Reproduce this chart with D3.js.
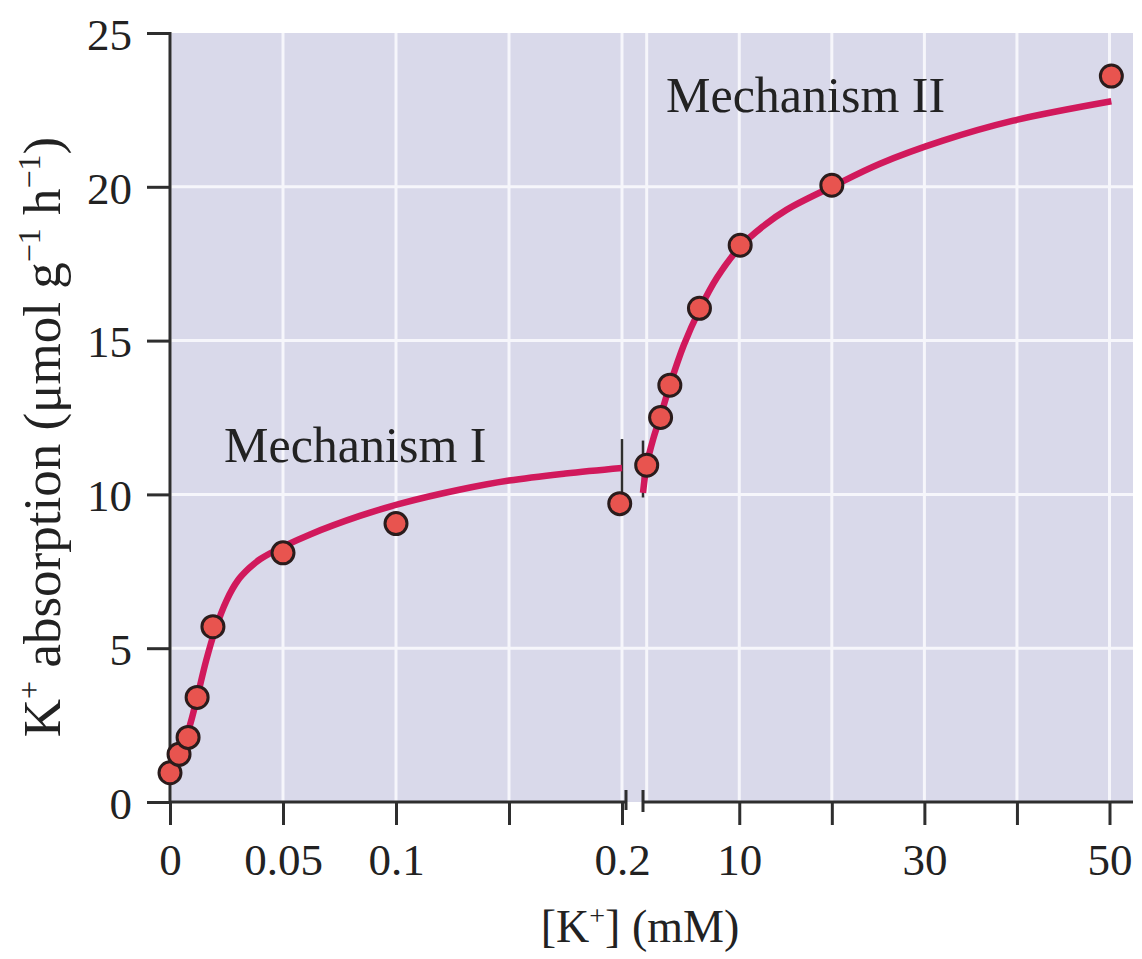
<!DOCTYPE html>
<html>
<head>
<meta charset="utf-8">
<script src="https://cdn.jsdelivr.net/npm/d3@7"></script>
<style>
  html, body { margin: 0; padding: 0; background: #ffffff; }
  svg { display: block; }
  text { font-family: "Liberation Serif", "Times New Roman", serif; fill: #222; }
</style>
</head>
<body>
<svg id="chart" width="1142" height="959"></svg>
<script>
// ---------- data ----------
// Mechanism I (low [K+], 0 – 0.2 mM)
const mech1X = [0, 0.004, 0.008, 0.012, 0.019, 0.05, 0.1, 0.199];
const mech1Y = [0.95, 1.55, 2.1, 3.4, 5.7, 8.1, 9.05, 9.7];
// fitted curve I
const curve1X = [0, 0.004, 0.008, 0.012, 0.016, 0.02, 0.025, 0.03, 0.035, 0.04, 0.05, 0.062, 0.084, 0.102, 0.128, 0.15, 0.175, 0.2];
const curve1Y = [0.9, 1.6, 2.3, 3.4, 4.6, 5.6, 6.55, 7.2, 7.6, 7.9, 8.3, 8.7, 9.3, 9.7, 10.15, 10.45, 10.68, 10.86];
// Mechanism II (high [K+], up to 50 mM)
const mech2X = [0.0, 1.5, 2.5, 5.7, 10.1, 20, 50.2];
const mech2Y = [10.95, 12.5, 13.55, 16.05, 18.1, 20.05, 23.6];
// fitted curve II
const curve2X = [-0.4, 0, 0.7, 1.5, 2.5, 4.0, 5.7, 7.6, 10.1, 12.5, 15.1, 20, 25.2, 32, 39.6, 50.2];
const curve2Y = [10.05, 10.95, 11.8, 12.55, 13.55, 14.85, 16.0, 17.05, 18.05, 18.7, 19.25, 20.0, 20.75, 21.5, 22.15, 22.78];

// ticks
const yTicks = [0, 5, 10, 15, 20, 25];
const xLeftTicks = [0, 0.05, 0.1, 0.15, 0.2];
const xLeftLabels = ["0", "0.05", "0.1", "", "0.2"];
const xRightTicks = [10, 20, 30, 40, 50];
const xRightLabels = ["10", "", "30", "", "50"];
const xRightGrid = [0, 10, 20, 30, 40, 50];
const yGrid = [5, 10, 15, 20];

// ---------- layout ----------
const plotL = 170, plotR = 1133, plotT = 33, plotB = 802;
const svg = d3.select("#chart");

const y = d3.scaleLinear().domain([0, 25]).range([plotB, plotT]);
const xL = d3.scaleLinear().domain([0, 0.2]).range([plotL, 622]);
const xR = d3.scaleLinear().domain([0, 50]).range([646.7, 1109.5]);

const curveColor = "#d1195c";
const axisColor = "#2e2e2e";

// background
svg.append("rect")
  .attr("x", plotL).attr("y", plotT)
  .attr("width", plotR - plotL).attr("height", plotB - plotT)
  .attr("fill", "#d9d9ea");

// grid
const grid = svg.append("g").attr("stroke", "#f6f6fb").attr("stroke-width", 3);
grid.selectAll("line.gl").data(xLeftTicks).join("line")
  .attr("x1", d => xL(d)).attr("x2", d => xL(d))
  .attr("y1", plotT).attr("y2", plotB);
grid.selectAll("line.gr").data(xRightGrid).join("line")
  .attr("class", "gr")
  .attr("x1", d => xR(d)).attr("x2", d => xR(d))
  .attr("y1", plotT).attr("y2", plotB);
grid.selectAll("line.gy").data(yGrid).join("line")
  .attr("class", "gy")
  .attr("x1", plotL).attr("x2", plotR)
  .attr("y1", d => y(d)).attr("y2", d => y(d));

// axes
const fs = 45;
const yAxis = d3.axisLeft(y).tickValues(yTicks).tickSize(23).tickSizeOuter(0);
const gy = svg.append("g").attr("transform", `translate(${plotL},0)`).call(yAxis);
gy.select(".domain").remove();
gy.selectAll(".tick line").attr("stroke", axisColor).attr("stroke-width", 3);
gy.selectAll(".tick text").attr("x", -38).attr("dy", "0.36em")
  .style("font-family", '"Liberation Serif", serif').style("font-size", fs + "px").attr("fill", "#222");

const xAxisL = d3.axisBottom(xL).tickValues(xLeftTicks).tickSize(23).tickSizeOuter(0)
  .tickFormat((d, i) => xLeftLabels[i]);
const gxl = svg.append("g").attr("transform", `translate(0,${plotB})`).call(xAxisL);
const xAxisR = d3.axisBottom(xR).tickValues(xRightTicks).tickSize(23).tickSizeOuter(0)
  .tickFormat((d, i) => xRightLabels[i]);
const gxr = svg.append("g").attr("transform", `translate(0,${plotB})`).call(xAxisR);
[gxl, gxr].forEach(g => {
  g.select(".domain").remove();
  g.selectAll(".tick line").attr("stroke", axisColor).attr("stroke-width", 3);
  g.selectAll(".tick text").attr("y", 73).attr("dy", "0")
    .style("font-family", '"Liberation Serif", serif').style("font-size", fs + "px").attr("fill", "#222");
});

// axis lines with break
const ax = svg.append("g").attr("stroke", axisColor).attr("stroke-width", 3).attr("fill", "none");
ax.append("line").attr("x1", plotL).attr("x2", plotL).attr("y1", plotT - 1).attr("y2", plotB + 2);
ax.append("line").attr("x1", plotL).attr("x2", xL(0.2) + 4).attr("y1", plotB).attr("y2", plotB);
ax.append("line").attr("x1", xR(-0.4)).attr("x2", plotR).attr("y1", plotB).attr("y2", plotB);
ax.append("line").attr("x1", xL(0.2) + 4).attr("x2", xL(0.2) + 4).attr("y1", plotB - 12).attr("y2", plotB + 8);
ax.append("line").attr("x1", xR(-0.4)).attr("x2", xR(-0.4)).attr("y1", plotB - 12).attr("y2", plotB + 10);

// break markers in plot
ax.append("line").attr("stroke-width", 2.5)
  .attr("x1", xL(0.2)).attr("x2", xL(0.2)).attr("y1", y(11.8)).attr("y2", y(9.9));
ax.append("line").attr("stroke-width", 2.5)
  .attr("x1", xR(-0.4)).attr("x2", xR(-0.4)).attr("y1", y(11.75)).attr("y2", y(9.9));

// curves
const line1 = d3.line().x((d, i) => xL(curve1X[i])).y((d, i) => y(curve1Y[i])).curve(d3.curveCatmullRom.alpha(0.5));
const line2 = d3.line().x((d, i) => xR(curve2X[i])).y((d, i) => y(curve2Y[i])).curve(d3.curveCatmullRom.alpha(0.5));
svg.append("path").attr("d", line1(curve1X)).attr("fill", "none")
  .attr("stroke", curveColor).attr("stroke-width", 6.5).attr("stroke-linecap", "butt");
svg.append("path").attr("d", line2(curve2X)).attr("fill", "none")
  .attr("stroke", curveColor).attr("stroke-width", 6.5).attr("stroke-linecap", "butt");

// points
const pts = svg.append("g").attr("fill", "#e8544f").attr("stroke", "#2a1c1c").attr("stroke-width", 3);
pts.selectAll("circle.p1").data(mech1X).join("circle").attr("class", "p1")
  .attr("cx", d => xL(d)).attr("cy", (d, i) => y(mech1Y[i])).attr("r", 11);
pts.selectAll("circle.p2").data(mech2X).join("circle").attr("class", "p2")
  .attr("cx", d => xR(d)).attr("cy", (d, i) => y(mech2Y[i])).attr("r", 11);

// annotations
svg.append("text").attr("x", 224).attr("y", 462).style("font-size", "50px").text("Mechanism I");
svg.append("text").attr("x", 666).attr("y", 112).style("font-size", "50px").text("Mechanism II");

// axis titles
const xt = svg.append("text").attr("x", 640).attr("y", 942).attr("text-anchor", "middle").style("font-size", "46px");
xt.append("tspan").text("[K");
xt.append("tspan").attr("dy", -17).style("font-size", "28px").text("+");
xt.append("tspan").attr("dy", 17).text("] (mM)");

const yt = svg.append("text").attr("transform", "translate(60,437) rotate(-90)")
  .attr("text-anchor", "middle").style("font-size", "53px");
yt.append("tspan").text("K");
yt.append("tspan").attr("dy", -20).style("font-size", "32px").text("+");
yt.append("tspan").attr("dy", 20).text(" absorption (\u03bcmol g");
yt.append("tspan").attr("dy", -20).style("font-size", "32px").text("\u22121");
yt.append("tspan").attr("dy", 20).text(" h");
yt.append("tspan").attr("dy", -20).style("font-size", "32px").text("\u22121");
yt.append("tspan").attr("dy", 20).text(")");
</script>
</body>
</html>
